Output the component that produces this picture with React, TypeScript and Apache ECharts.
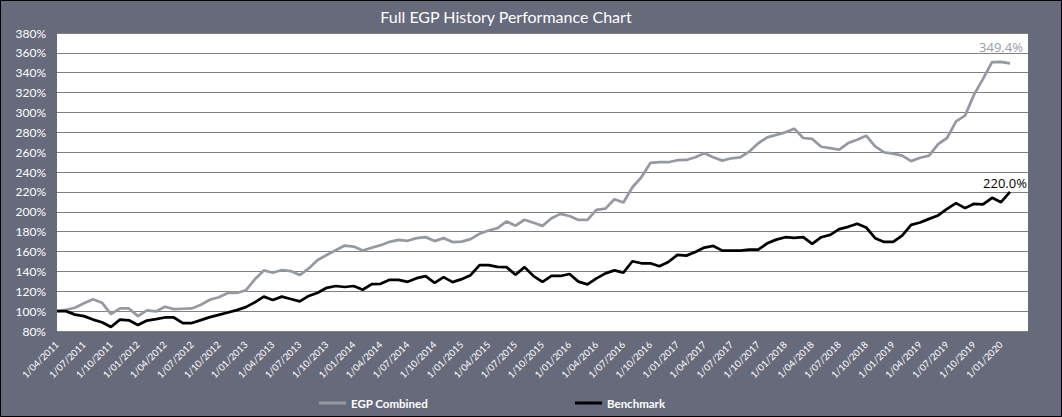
import React, { useEffect, useRef } from "react";
import * as echarts from "echarts";

// Monthly categories from 1/04/2011 to 1/04/2020 (axis extends one month past the data)
const START_YEAR = 2011;
const START_MONTH = 4;
const MONTH_COUNT = 109;
const categories: string[] = [];
for (let k = 0; k < MONTH_COUNT; k++) {
  const m = ((START_MONTH - 1 + k) % 12) + 1;
  const y = START_YEAR + Math.floor((START_MONTH - 1 + k) / 12);
  categories.push(`1/${m < 10 ? "0" + m : m}/${y}`);
}
const LAST_LABEL_INDEX = 105; // 1/01/2020

const egpCombined: number[] = [
  100, 101.4, 103.4, 108, 112, 108.5, 97, 102.7, 102.7, 95,
  100.7, 99.7, 104.4, 102, 102.4, 102.7, 106.4, 111.5, 114, 118.3,
  118.3, 121, 132, 141, 138.6, 141.4, 140.3, 136.3, 143, 151.5,
  156.5, 161.3, 166, 165, 161, 163.8, 166.4, 169.8, 171.8, 170.8,
  173.5, 174.5, 170.5, 173.5, 169.5, 170, 172.5, 177.9, 181.2, 183.6,
  190.3, 186, 192, 189, 185.8, 193.5, 197.9, 195.8, 191.8, 191.8,
  201.9, 203.2, 212.6, 209.3, 224.7, 234.8, 249.2, 249.9, 249.9, 251.9,
  252.2, 254.9, 258.9, 254.9, 251.5, 253.9, 254.9, 260.6, 269, 275,
  277.5, 280, 283.7, 274.3, 273.3, 265.5, 264.2, 262.5, 269.2, 272.6,
  276.6, 265.9, 259.8, 258.5, 256.5, 251, 254.4, 256.5, 268.2, 274.3,
  291.1, 296.8, 318, 333.8, 350.6, 350.9, 349.4,
];

const benchmark: number[] = [
  100, 100, 96.5, 95, 91.5, 88.8, 84, 91.5, 90.8, 86,
  90.5, 92, 93.6, 93.6, 88, 88, 91, 94, 96.3, 98.6,
  101, 104, 108.8, 114.6, 111.2, 114.6, 112.2, 109.8, 115.3, 118.5,
  123.5, 125.3, 124.3, 125.3, 121.5, 127.2, 127.5, 131.5, 131.5, 129.5,
  133.2, 135.2, 128.5, 134.2, 129.2, 132.2, 136.2, 146.3, 146.3, 144.6,
  144.3, 136.6, 144.3, 135.3, 129.4, 135.4, 135.4, 137.4, 129.7, 127,
  133, 138, 141, 138.8, 150.2, 148.2, 148.2, 145.2, 149.5, 156.6,
  155.9, 159.6, 164, 165.6, 160.9, 160.9, 160.9, 161.9, 161.9, 168.3,
  172, 174.4, 173.8, 174.4, 167.7, 174.4, 176.8, 182.5, 184.9, 187.9,
  184.2, 173.4, 169.7, 169.7, 176.1, 186.9, 189.2, 192.9, 196.3, 203,
  208.7, 203.7, 208, 207.4, 214.1, 209.7, 220,
];

const Y_MIN = 80;
const Y_MAX = 380;
const Y_STEP = 20;

const TITLE = "Full EGP History Performance Chart";
const SERIES_NAMES = ["EGP Combined", "Benchmark"];

const BG = "#676a7b";
const GRAY = "#959aa2";
const GRAY_LABEL = "#9a9ea6";

export default function App() {
  const ref = useRef<HTMLDivElement>(null);

  useEffect(() => {
    if (!ref.current) return;
    const chart = echarts.init(ref.current, null, { renderer: "svg" });
    const lastG = egpCombined.length - 1;
    const lastB = benchmark.length - 1;
    chart.setOption({
      animation: false,
      backgroundColor: BG,
      graphic: [
        {
          type: "text",
          x: 506,
          y: 16,
          style: {
            text: TITLE,
            fill: "#ffffff",
            font: "16px Lato",
            align: "center",
            verticalAlign: "middle",
          },
        },
        {
          type: "rect",
          shape: { x: 0.5, y: 0.5, width: 1061, height: 416 },
          style: { fill: "none", stroke: "#000000", lineWidth: 1 },
          silent: true,
        },
      ],
      grid: {
        left: 57,
        right: 34,
        top: 33,
        bottom: 86,
        show: true,
        backgroundColor: "#ffffff",
        borderWidth: 0,
        containLabel: false,
      },
      legend: [
        {
          data: [SERIES_NAMES[0]],
          left: 314,
          top: 392,
          icon: "rect",
          itemWidth: 27,
          itemHeight: 3,
          textStyle: { color: "#ffffff", fontFamily: "Lato", fontWeight: "bold", fontSize: 11.5 },
        },
        {
          data: [SERIES_NAMES[1]],
          left: 570,
          top: 392,
          icon: "rect",
          itemWidth: 27,
          itemHeight: 3,
          textStyle: { color: "#ffffff", fontFamily: "Lato", fontWeight: "bold", fontSize: 11.5 },
        },
      ],
      xAxis: {
        type: "category",
        data: categories,
        boundaryGap: false,
        axisLine: { show: false },
        axisTick: { show: false },
        splitLine: { show: false },
        axisLabel: {
          interval: (idx: number) => idx % 3 === 0 && idx <= LAST_LABEL_INDEX,
          rotate: 45,
          color: "#ffffff",
          fontFamily: "Lato",
          fontSize: 9.5,
          margin: 12,
        },
      },
      yAxis: {
        type: "value",
        min: Y_MIN,
        max: Y_MAX,
        interval: Y_STEP,
        axisLine: { show: false },
        axisTick: { show: false },
        splitLine: { show: true, lineStyle: { color: "#808080", width: 1 } },
        axisLabel: {
          formatter: "{value}%",
          color: "#ffffff",
          fontFamily: "Lato",
          fontSize: 12,
          margin: 11,
        },
      },
      series: [
        {
          name: SERIES_NAMES[0],
          type: "line",
          data: egpCombined,
          symbol: "none",
          color: GRAY,
          lineStyle: { color: GRAY, width: 2.75 },
          markPoint: {
            symbol: "circle",
            symbolSize: 0,
            data: [
              {
                coord: [lastG, egpCombined[lastG]],
                value: egpCombined[lastG],
                label: {
                  show: true,
                  position: "top",
                  offset: [-9, -5],
                  formatter: (p: any) => `${Number(p.value).toFixed(1)}%`,
                  color: GRAY_LABEL,
                  fontFamily: "Open Sans",
                  fontSize: 13,
                },
              },
            ],
          },
        },
        {
          name: SERIES_NAMES[1],
          type: "line",
          data: benchmark,
          symbol: "none",
          color: "#000000",
          lineStyle: { color: "#000000", width: 2.75 },
          markPoint: {
            symbol: "circle",
            symbolSize: 0,
            data: [
              {
                coord: [lastB, benchmark[lastB]],
                value: benchmark[lastB],
                label: {
                  show: true,
                  position: "top",
                  offset: [-5, 3],
                  formatter: (p: any) => `${Number(p.value).toFixed(1)}%`,
                  color: "#000000",
                  fontFamily: "Open Sans",
                  fontSize: 13,
                },
              },
            ],
          },
        },
      ],
    });
    return () => chart.dispose();
  }, []);

  return (
    <div
      ref={ref}
      style={{ position: "fixed", left: 0, top: 0, width: 1062, height: 417 }}
    />
  );
}
